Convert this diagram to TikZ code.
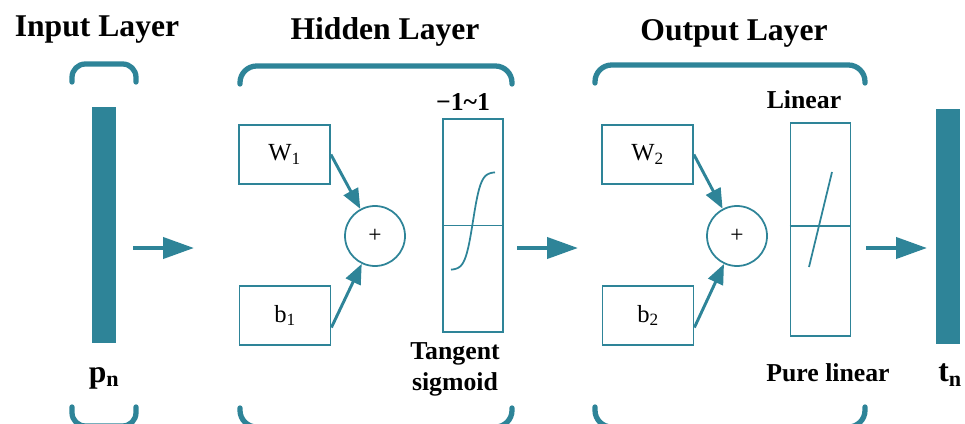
\documentclass[tikz,border=0pt]{standalone}
\usepackage{fontspec}
\setmainfont{Liberation Serif}
\usetikzlibrary{arrows.meta}
\definecolor{LayerClr}{RGB}{46,132,152}

\tikzset{
  wbox/.style={draw=LayerClr,line width=1.5pt,minimum width=2.73cm,minimum height=1.77cm,
    inner sep=0pt,font=\fontsize{21}{24}\selectfont},
  sumnode/.style={circle,draw=LayerClr,line width=1.5pt,minimum size=1.8cm,inner sep=0pt,
    font=\fontsize{20}{22}\selectfont},
  tfbox/.style={draw=LayerClr,line width=1.5pt,minimum width=1.8cm,minimum height=6.39cm,inner sep=0pt},
  databar/.style={fill=LayerClr,minimum width=0.72cm,minimum height=7.05cm,inner sep=0pt},
  brace/.style={LayerClr,line width=4.5pt,line cap=round,rounded corners=0.5cm},
  flow/.style={LayerClr,line width=3.5pt,-{Triangle[length=0.93cm,width=0.63cm]}},
  feed/.style={LayerClr,line width=2.5pt,-{Triangle[length=0.6cm,width=0.48cm]}},
  title/.style={font=\fontsize{27}{30}\selectfont\bfseries},
  note/.style={font=\fontsize{22}{26.4}\selectfont\bfseries,align=center}
}

\begin{document}
\begin{tikzpicture}[x=0.03cm,y=-0.03cm]
\useasboundingbox (0,0) rectangle (965,423);

% titles and brackets
\node[title] (tin) at (97,30) {Input Layer};
\node[title] (thid) at (385,32) {Hidden Layer};
\node[title] (tout) at (734,33) {Output Layer};

\draw[brace,rounded corners=0.4cm] (72,82) -- (72,64) -- (136,64) -- (136,82);
\draw[brace,rounded corners=0.4cm] (72,407) -- (72,426) -- (136,426) -- (136,407);
\draw[brace] (240,84) -- (240,66) -- (512,66) -- (512,84);
\draw[brace] (240,408) -- (240,427) -- (512,427) -- (512,408);
\draw[brace] (595,83) -- (595,65) -- (865,65) -- (865,83);
\draw[brace] (595,407) -- (595,427) -- (865,427) -- (865,407);

% input and output vectors
\node[databar] (pbar) at (104,225) {};
\node[font=\fontsize{27}{30}\selectfont\bfseries] (pn) at (104,378) {p\textsubscript{n}};
\node[databar,minimum height=7.02cm] (tbar) at (948,226.5) {};
\node[font=\fontsize{27}{30}\selectfont\bfseries] (tn) at (950,375) {t\textsubscript{n}};

% hidden layer
\node[wbox] (w1) at (284.5,154.5) {W\textsubscript{1}};
\node[wbox] (b1) at (285,315.5) {b\textsubscript{1}};
\node[sumnode] (sum1) at (375,236) {+};
\node[tfbox] (tf1) at (473,225.5) {};
\draw[LayerClr,line width=1.5pt] (tf1.west) -- (tf1.east);
\draw[LayerClr,line width=1.5pt] plot[domain=-1:1,samples=40,smooth] ({473+22*\x},{221-49*tanh(2.8*\x)});
\node[note] (rng) at (463,102) {−1\textasciitilde 1};
\node[note] (tansig) at (455,369) {Tangent\\sigmoid};
\draw[feed] (w1.east) -- (sum1);
\draw[feed] ([yshift=-0.36cm]b1.east) -- (sum1);

% output layer
\node[wbox] (w2) at (647.5,154.5) {W\textsubscript{2}};
\node[wbox] (b2) at (648,315.5) {b\textsubscript{2}};
\node[sumnode] (sum2) at (737,236) {+};
\node[tfbox] (tf2) at (820.5,229.5) {};
\draw[LayerClr,line width=1.5pt] ([yshift=0.1cm]tf2.west) -- ([yshift=0.1cm]tf2.east);
\draw[LayerClr,line width=1.5pt] (809,267) -- (832,172);
\node[note] (lin) at (804,100) {Linear};
\node[note] (purelin) at (828,373) {Pure linear};
\draw[feed] (w2.east) -- (sum2);
\draw[feed] ([yshift=-0.36cm]b2.east) -- (sum2);

% flow between layers
\coordinate (f1s) at (133,248);
\coordinate (f1e) at (194,248);
\coordinate (f2s) at (517,248);
\coordinate (f2e) at (578,248);
\coordinate (f3s) at (866,248);
\coordinate (f3e) at (927,248);
\draw[flow] (f1s) -- (f1e);
\draw[flow] (f2s) -- (f2e);
\draw[flow] (f3s) -- (f3e);
\end{tikzpicture}
\end{document}
